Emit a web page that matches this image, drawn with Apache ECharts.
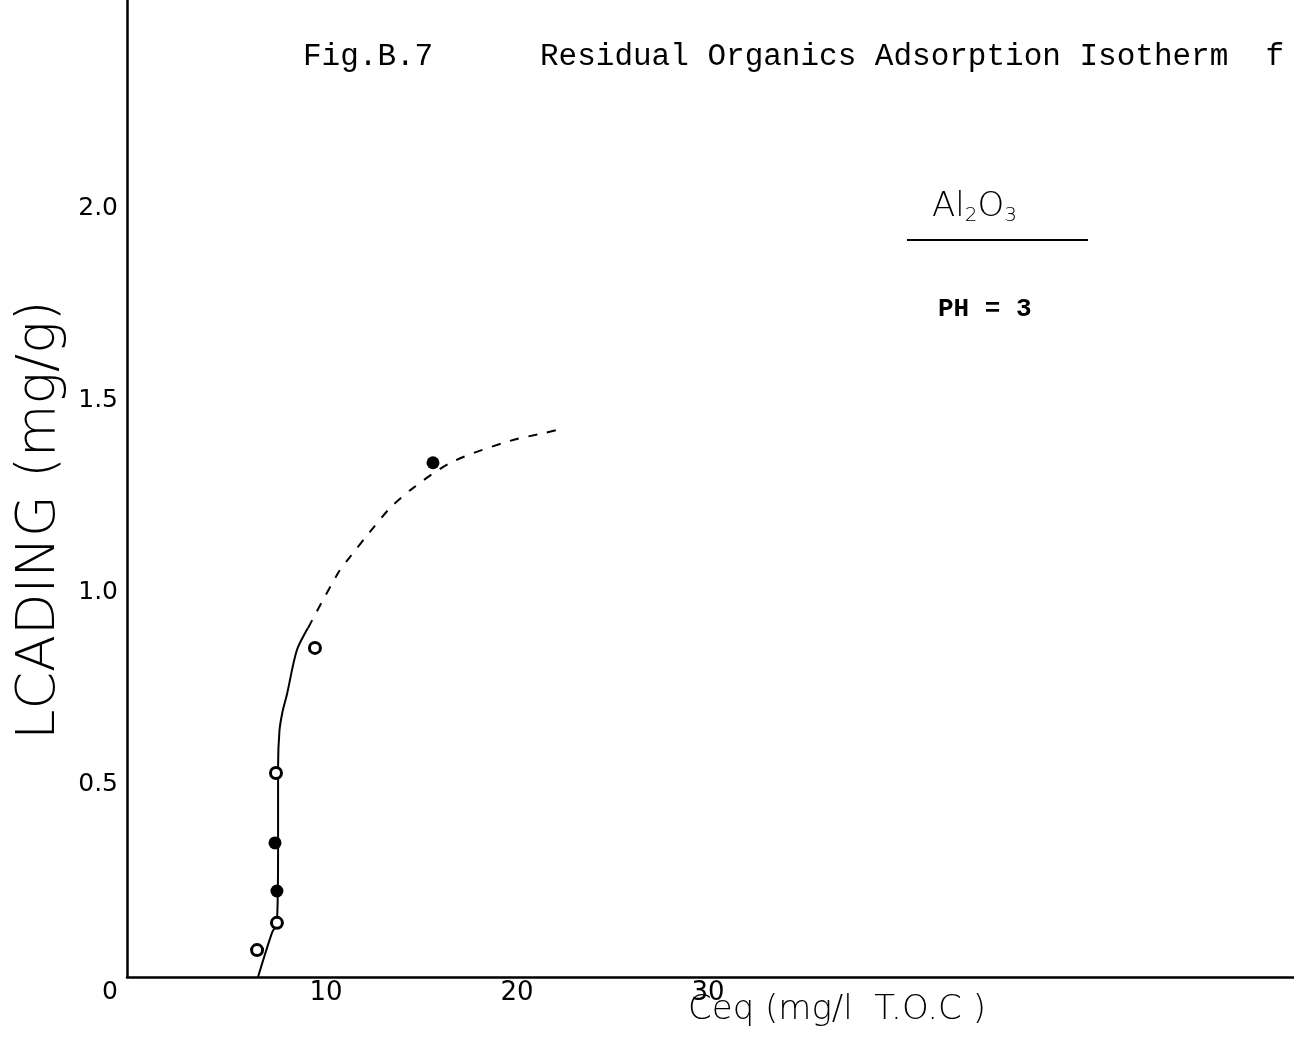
<!DOCTYPE html>
<html><head><meta charset="utf-8">
<script src="https://cdn.jsdelivr.net/npm/echarts@6/dist/echarts.min.js"></script>
<style>html,body{margin:0;padding:0;background:#fff}#c{width:1294px;height:1050px}</style>
</head><body><div id="c"></div>
<script>
// ---- data ----
const xTickValues = [10, 20, 30];
const yTickValues = [0, 0.5, 1.0, 1.5, 2.0];
const yTickLabels = ['0', '0.5', '1.0', '1.5', '2.0'];
const openPoints = [[6.39, 0.070], [7.43, 0.141], [7.38, 0.531], [9.42, 0.857]];
const filledPoints = [[7.43, 0.224], [7.33, 0.349], [15.6, 1.339]];
const curveSolid = [[6.44, 0], [7.17, 0.115], [7.43, 0.141], [7.49, 0.331], [7.49, 0.547], [7.56, 0.640], [7.72, 0.690], [7.95, 0.735], [8.48, 0.852], [9.06, 0.909]];
const curveDashed = [[9.06, 0.909], [10.63, 1.052], [11.26, 1.094], [12.30, 1.159], [13.35, 1.221], [14.55, 1.273], [16.60, 1.341], [19.63, 1.396], [21.47, 1.417], [22.51, 1.430]];
const titleLeft = 'Fig.B.7';
const titleMain = 'Residual Organics Adsorption Isotherm  f';
const xName = 'Ceq (mg/l  T.O.C )';
const yName = 'LCADING (mg/g)';
const phText = 'PH = 3';

const chart = echarts.init(document.getElementById('c'), null, {renderer: 'canvas'});
const tickFont = 'DejaVu Sans';
chart.setOption({
  backgroundColor: '#fff',
  animation: false,
  grid: {left: 127, right: 0, top: 0, bottom: 73, containLabel: false},
  xAxis: {
    type: 'value', min: -0.42, max: 60.68,
    axisLine: {show: true, onZero: false, lineStyle: {color: '#000', width: 2.5}},
    axisTick: {show: false},
    splitLine: {show: false},
    axisLabel: {
      customValues: xTickValues,
      formatter: v => String(Math.round(v)),
      color: '#000', fontFamily: tickFont, fontWeight: 'normal', fontSize: 26, margin: 3
    }
  },
  yAxis: {
    type: 'value', min: 0, max: 2.544, interval: 0.5,
    axisLine: {show: true, onZero: false, lineStyle: {color: '#000', width: 2.5}},
    axisTick: {show: false},
    splitLine: {show: false},
    axisLabel: {
      showMaxLabel: false,
      color: '#000', fontFamily: tickFont, fontWeight: 'normal', fontSize: 25, margin: 9,
      formatter: v => {
        const i = yTickValues.findIndex(t => Math.abs(t - v) < 1e-6);
        if (i < 0) return '';
        if (i === 0) return '{z|' + yTickLabels[0] + '}';
        return yTickLabels[i];
      },
      rich: {z: {fontFamily: tickFont, fontSize: 25, color: '#000', padding: [30, 0, 0, 0]}}
    }
  },
  series: [
    {type: 'line', data: curveSolid, smooth: 0.3, symbol: 'none', lineStyle: {color: '#000', width: 2}, z: 2},
    {type: 'line', data: curveDashed, smooth: 0.3, symbol: 'none', lineStyle: {color: '#000', width: 2, type: [9, 10]}, z: 2},
    {type: 'scatter', data: openPoints, symbol: 'circle', symbolSize: 11,
      itemStyle: {color: '#fff', borderColor: '#000', borderWidth: 3, opacity: 1}, z: 5},
    {type: 'scatter', data: filledPoints, symbol: 'circle', symbolSize: 13,
      itemStyle: {color: '#000', opacity: 1}, z: 5}
  ],
  graphic: [
    {type: 'text', left: 303, top: 41, style: {text: titleLeft, font: '31px "Liberation Mono"', fill: '#000'}},
    {type: 'text', left: 540, top: 41, style: {text: titleMain, font: '31px "Liberation Mono"', fill: '#000'}},
    {type: 'text', left: 932, top: 190, style: {
      text: '{a|Al}{s|2}{a|O}{s|3}', fill: '#000',
      rich: {a: {fontFamily: 'DejaVu Sans', fontWeight: 200, fontSize: 34, fill: '#000'},
             s: {fontFamily: 'DejaVu Sans', fontWeight: 200, fontSize: 20, fill: '#000', padding: [18, 0, 0, 0]}}
    }},
    {type: 'line', shape: {x1: 907, y1: 240, x2: 1088, y2: 240}, style: {stroke: '#000', lineWidth: 2}},
    {type: 'text', left: 938, top: 296, style: {text: phText, font: 'bold 26px "Liberation Mono"', fill: '#000'}},
    {type: 'text', x: 40, y: 520, rotation: Math.PI / 2, style: {
      text: yName, font: '200 54px "DejaVu Sans"', fill: '#000', align: 'center', verticalAlign: 'middle'}},
    {type: 'text', left: 688, top: 993, style: {text: xName, font: '200 34px "DejaVu Sans"', fill: '#000'}}
  ]
});
</script>
</body></html>
